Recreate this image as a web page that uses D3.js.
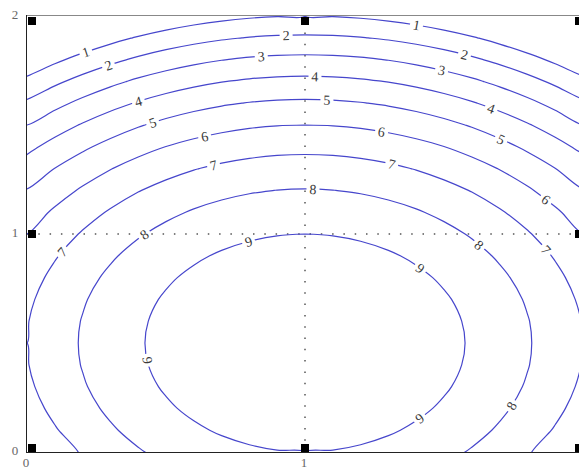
<!DOCTYPE html>
<html>
<head>
<meta charset="utf-8">
<script src="https://cdn.jsdelivr.net/npm/d3@7"></script>
<style>
  body { margin: 0; background: #fff; }
  text { font-family: "Liberation Serif", "DejaVu Serif", serif; }
</style>
</head>
<body>
<svg id="chart" width="579" height="469"></svg>
<script>
// sampled field, one row per y value (y = 0 at the bottom)
var xGrid = [0, 0.1, 0.2, 0.3, 0.4, 0.5, 0.6, 0.7, 0.8, 0.9, 1, 1.1, 1.2, 1.3, 1.4, 1.5, 1.6, 1.7, 1.8, 1.9, 2];
var yGrid = [0, 0.1, 0.2, 0.3, 0.4, 0.5, 0.6, 0.7, 0.8, 0.9, 1, 1.1, 1.2, 1.3, 1.4, 1.5, 1.6, 1.7, 1.8, 1.9, 2];
var zRows = [
  [6.00, 6.57, 7.08, 7.53, 7.92, 8.25, 8.52, 8.73, 8.88, 8.97, 9.00, 8.97, 8.88, 8.73, 8.52, 8.25, 7.92, 7.53, 7.08, 6.57, 6.00],
  [6.36, 6.93, 7.44, 7.89, 8.28, 8.61, 8.88, 9.09, 9.24, 9.33, 9.36, 9.33, 9.24, 9.09, 8.88, 8.61, 8.28, 7.89, 7.44, 6.93, 6.36],
  [6.64, 7.21, 7.72, 8.17, 8.56, 8.89, 9.16, 9.37, 9.52, 9.61, 9.64, 9.61, 9.52, 9.37, 9.16, 8.89, 8.56, 8.17, 7.72, 7.21, 6.64],
  [6.84, 7.41, 7.92, 8.37, 8.76, 9.09, 9.36, 9.57, 9.72, 9.81, 9.84, 9.81, 9.72, 9.57, 9.36, 9.09, 8.76, 8.37, 7.92, 7.41, 6.84],
  [6.96, 7.53, 8.04, 8.49, 8.88, 9.21, 9.48, 9.69, 9.84, 9.93, 9.96, 9.93, 9.84, 9.69, 9.48, 9.21, 8.88, 8.49, 8.04, 7.53, 6.96],
  [7.00, 7.57, 8.08, 8.53, 8.92, 9.25, 9.52, 9.73, 9.88, 9.97, 10.0, 9.97, 9.88, 9.73, 9.52, 9.25, 8.92, 8.53, 8.08, 7.57, 7.00],
  [6.96, 7.53, 8.04, 8.49, 8.88, 9.21, 9.48, 9.69, 9.84, 9.93, 9.96, 9.93, 9.84, 9.69, 9.48, 9.21, 8.88, 8.49, 8.04, 7.53, 6.96],
  [6.84, 7.41, 7.92, 8.37, 8.76, 9.09, 9.36, 9.57, 9.72, 9.81, 9.84, 9.81, 9.72, 9.57, 9.36, 9.09, 8.76, 8.37, 7.92, 7.41, 6.84],
  [6.64, 7.21, 7.72, 8.17, 8.56, 8.89, 9.16, 9.37, 9.52, 9.61, 9.64, 9.61, 9.52, 9.37, 9.16, 8.89, 8.56, 8.17, 7.72, 7.21, 6.64],
  [6.36, 6.93, 7.44, 7.89, 8.28, 8.61, 8.88, 9.09, 9.24, 9.33, 9.36, 9.33, 9.24, 9.09, 8.88, 8.61, 8.28, 7.89, 7.44, 6.93, 6.36],
  [6.00, 6.57, 7.08, 7.53, 7.92, 8.25, 8.52, 8.73, 8.88, 8.97, 9.00, 8.97, 8.88, 8.73, 8.52, 8.25, 7.92, 7.53, 7.08, 6.57, 6.00],
  [5.56, 6.13, 6.64, 7.09, 7.48, 7.81, 8.08, 8.29, 8.44, 8.53, 8.56, 8.53, 8.44, 8.29, 8.08, 7.81, 7.48, 7.09, 6.64, 6.13, 5.56],
  [5.04, 5.61, 6.12, 6.57, 6.96, 7.29, 7.56, 7.77, 7.92, 8.01, 8.04, 8.01, 7.92, 7.77, 7.56, 7.29, 6.96, 6.57, 6.12, 5.61, 5.04],
  [4.44, 5.01, 5.52, 5.97, 6.36, 6.69, 6.96, 7.17, 7.32, 7.41, 7.44, 7.41, 7.32, 7.17, 6.96, 6.69, 6.36, 5.97, 5.52, 5.01, 4.44],
  [3.76, 4.33, 4.84, 5.29, 5.68, 6.01, 6.28, 6.49, 6.64, 6.73, 6.76, 6.73, 6.64, 6.49, 6.28, 6.01, 5.68, 5.29, 4.84, 4.33, 3.76],
  [3.00, 3.57, 4.08, 4.53, 4.92, 5.25, 5.52, 5.73, 5.88, 5.97, 6.00, 5.97, 5.88, 5.73, 5.52, 5.25, 4.92, 4.53, 4.08, 3.57, 3.00],
  [2.16, 2.73, 3.24, 3.69, 4.08, 4.41, 4.68, 4.89, 5.04, 5.13, 5.16, 5.13, 5.04, 4.89, 4.68, 4.41, 4.08, 3.69, 3.24, 2.73, 2.16],
  [1.24, 1.81, 2.32, 2.77, 3.16, 3.49, 3.76, 3.97, 4.12, 4.21, 4.24, 4.21, 4.12, 3.97, 3.76, 3.49, 3.16, 2.77, 2.32, 1.81, 1.24],
  [0.24, 0.81, 1.32, 1.77, 2.16, 2.49, 2.76, 2.97, 3.12, 3.21, 3.24, 3.21, 3.12, 2.97, 2.76, 2.49, 2.16, 1.77, 1.32, 0.81, 0.24],
  [-0.84, -0.27, 0.24, 0.69, 1.08, 1.41, 1.68, 1.89, 2.04, 2.13, 2.16, 2.13, 2.04, 1.89, 1.68, 1.41, 1.08, 0.69, 0.24, -0.27, -0.84],
  [-2.00, -1.43, -0.92, -0.47, -0.08, 0.25, 0.52, 0.73, 0.88, 0.97, 1.00, 0.97, 0.88, 0.73, 0.52, 0.25, -0.08, -0.47, -0.92, -1.43, -2.00]
];
var levels = [1, 2, 3, 4, 5, 6, 7, 8, 9];
var xTicks = [0, 1];
var yTicks = [0, 1, 2];

// inline contour labels (level, approx. place on the line)
var labelLevel = [1, 1, 2, 2, 2, 3, 3, 4, 4, 4, 5, 5, 5, 6, 6, 6, 7, 7, 7, 7, 8, 8, 8, 8, 9, 9, 9, 9];
var labelX = [0.209, 1.403, 0.291, 0.932, 1.576, 0.842, 1.493, 0.399, 1.036, 1.673, 0.450, 1.079, 1.709,
  0.637, 1.277, 1.871, 0.669, 1.313, 0.119, 1.878, 1.029, 0.417, 1.633, 1.737, 0.795, 1.421, 0.439, 1.406];
var labelY = [1.844, 1.972, 1.780, 1.917, 1.835, 1.826, 1.761, 1.615, 1.729, 1.587, 1.518, 1.619, 1.445,
  1.459, 1.482, 1.165, 1.326, 1.326, 0.927, 0.940, 1.216, 1.005, 0.959, 0.216, 0.972, 0.853, 0.422, 0.165];

// square markers
var markerX = [0, 1, 2, 0, 2, 0, 1, 2];
var markerY = [0, 0, 0, 1, 1, 2, 2, 2];

var svg = d3.select("#chart");
var x = d3.scaleLinear().domain([0, 2]).range([27, 583]);
var y = d3.scaleLinear().domain([0, 2]).range([452, 16]);

var nx = xGrid.length, ny = yGrid.length;
// d3.contours puts sample i at coordinate i + 0.5
var cx = d3.scaleLinear().domain([0.5, nx - 0.5]).range([xGrid[0], xGrid[nx - 1]]);
var cy = d3.scaleLinear().domain([0.5, ny - 0.5]).range([yGrid[0], yGrid[ny - 1]]);

var contours = d3.contours().size([nx, ny]).thresholds(levels)(zRows.flat());

svg.append("clipPath").attr("id", "plot")
  .append("rect")
  .attr("x", x(0)).attr("y", y(2))
  .attr("width", x(2) - x(0)).attr("height", y(0) - y(2));

var plot = svg.append("g").attr("clip-path", "url(#plot)");

// dotted center lines
plot.append("line")
  .attr("x1", x(1)).attr("x2", x(1)).attr("y1", y(0)).attr("y2", y(2))
  .attr("stroke", "#555").attr("stroke-width", 1.5).attr("stroke-dasharray", "1.5,9.8");
plot.append("line")
  .attr("x1", x(0)).attr("x2", x(2)).attr("y1", y(1)).attr("y2", y(1))
  .attr("stroke", "#555").attr("stroke-width", 1.5).attr("stroke-dasharray", "1.5,9.8");

// rings in pixel space, with near-duplicate points dropped
var pixelRings = contours.map((c) =>
  c.coordinates.flatMap((poly) =>
    poly.map(function (ring) {
      var pts = [];
      ring.slice(0, -1).forEach(function (p) {
        var q = [x(cx(p[0])), y(cy(p[1]))];
        var last = pts[pts.length - 1];
        if (!last || Math.hypot(q[0] - last[0], q[1] - last[1]) > 1.5) pts.push(q);
      });
      return pts;
    })
  )
);

var line = d3.line().curve(d3.curveCatmullRomClosed.alpha(0.5));

plot.selectAll("path.contour")
  .data(pixelRings.flat())
  .enter()
  .append("path")
  .attr("class", "contour")
  .attr("d", (r) => line(r))
  .attr("fill", "none")
  .attr("stroke", "#4646cc")
  .attr("stroke-width", 1.2);

// snap every label on its line and turn it with the line
var labels = labelLevel.map(function (lv, i) {
  var px = x(labelX[i]), py = y(labelY[i]);
  var best = { d: Infinity, x: px, y: py, a: 0 };
  pixelRings[levels.indexOf(lv)].forEach(function (ring) {
    for (var k = 0; k < ring.length; k++) {
      var p = ring[k], q = ring[(k + 1) % ring.length];
      var vx = q[0] - p[0], vy = q[1] - p[1];
      var len2 = vx * vx + vy * vy;
      if (len2 === 0) continue;
      var t = Math.max(0, Math.min(1, ((px - p[0]) * vx + (py - p[1]) * vy) / len2));
      var sx = p[0] + t * vx, sy = p[1] + t * vy;
      var d = (sx - px) * (sx - px) + (sy - py) * (sy - py);
      if (d < best.d) best = { d: d, x: sx, y: sy, a: Math.atan2(vy, vx) * 180 / Math.PI };
    }
  });
  var a = best.a;
  if (a > 90) a -= 180;
  if (a < -90) a += 180;
  return { level: lv, x: best.x, y: best.y, a: a };
});

var lab = plot.selectAll("g.clabel")
  .data(labels)
  .enter()
  .append("g")
  .attr("class", "clabel")
  .attr("transform", (d) => `translate(${d.x},${d.y}) rotate(${d.a})`);

lab.append("rect")
  .attr("x", -6.5).attr("y", -3).attr("width", 13).attr("height", 6)
  .attr("fill", "#fff");

lab.append("text")
  .attr("text-anchor", "middle")
  .attr("dy", "0.35em")
  .attr("font-size", 14)
  .attr("fill", "#3a3a3a")
  .text((d) => d.level);

// markers
svg.selectAll("rect.marker")
  .data(markerX.map((v, i) => [v, markerY[i]]))
  .enter()
  .append("rect")
  .attr("class", "marker")
  .attr("width", 8).attr("height", 8)
  .attr("x", (d) => x(d[0]) - 4 * d[0] + (d[0] === 0 ? 1 : 0))
  .attr("y", (d) => y(d[1]) - 8 + 4 * d[1] + (d[1] === 2 ? 1 : 0))
  .attr("fill", "#000");

// frame
svg.append("line")
  .attr("x1", x(0)).attr("x2", x(2)).attr("y1", y(2) - 0.5).attr("y2", y(2) - 0.5)
  .attr("stroke", "#888").attr("stroke-width", 1);
svg.append("line")
  .attr("x1", x(0) - 0.5).attr("x2", x(0) - 0.5).attr("y1", y(2) - 1).attr("y2", y(0) + 0.5)
  .attr("stroke", "#222").attr("stroke-width", 1);
svg.append("line")
  .attr("x1", x(0) - 1).attr("x2", x(2)).attr("y1", y(0) + 0.5).attr("y2", y(0) + 0.5)
  .attr("stroke", "#222").attr("stroke-width", 1);

// tick labels
svg.selectAll("text.ytick")
  .data(yTicks)
  .enter()
  .append("text")
  .attr("class", "ytick")
  .attr("x", 15)
  .attr("y", (d) => y(d) - 2)
  .attr("dy", "0.35em")
  .attr("text-anchor", "middle")
  .attr("font-size", 13)
  .attr("fill", "#666")
  .text((d) => d);

svg.selectAll("text.xtick")
  .data(xTicks)
  .enter()
  .append("text")
  .attr("class", "xtick")
  .attr("x", (d) => x(d) - 1)
  .attr("y", 462)
  .attr("dy", "0.35em")
  .attr("text-anchor", "middle")
  .attr("font-size", 13)
  .attr("fill", "#666")
  .text((d) => d);
</script>
</body>
</html>
